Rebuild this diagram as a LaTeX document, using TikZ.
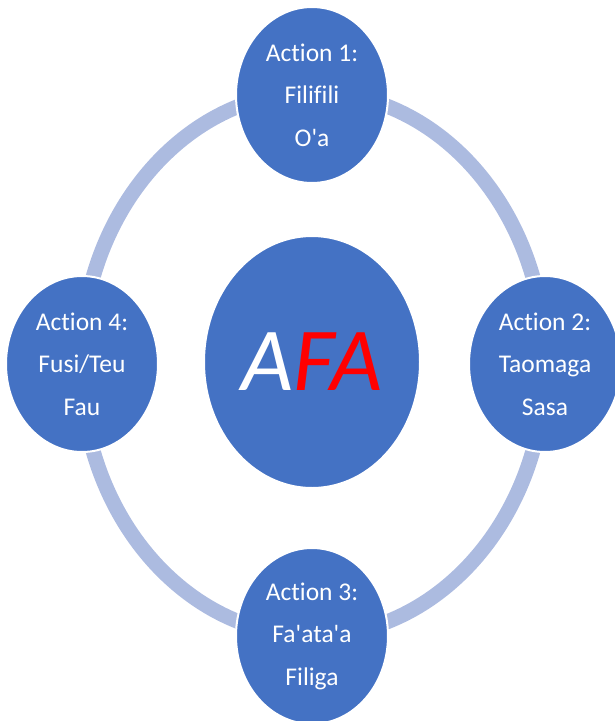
\documentclass[tikz,border=0pt]{standalone}
\usepackage{fontspec}
\newfontfamily\calib{Carlito}[Ligatures=NoCommon]
\usetikzlibrary{shapes.geometric}
\definecolor{blueA}{RGB}{68,114,196}
\definecolor{ringC}{RGB}{172,187,224}
\definecolor{redA}{RGB}{255,0,0}
\begin{document}
\begin{tikzpicture}[x=1pt,y=-1pt,
  act/.style={ellipse, fill=blueA, draw=white, line width=2pt,
    minimum width=152pt, minimum height=176pt, inner sep=0pt,
    text=white, align=center, font=\calib\fontsize{25.5}{42.5}\selectfont},
  hub/.style={ellipse, fill=blueA, draw=white, line width=2pt,
    minimum width=216pt, minimum height=252pt, inner sep=0pt,
    text=white, font=\calib\itshape\fontsize{90}{90}\selectfont},
  ringline/.style={draw=ringC, line width=15pt}]
\useasboundingbox (0,0) rectangle (615,721);
\clip (0,0) rectangle (615,721);
\coordinate (ctr) at (313,364);
\draw[ringline] (ctr) ellipse [x radius=232pt, y radius=272pt];
\node[hub] (afa) at (312,362) {A\textcolor{redA}{FA}};
\node[act] (a1) at (312,95) {Action 1:\\Filifili\\O'a};
\node[act] (a2) at (545,364) {Action 2:\\Taomaga\\Sasa};
\node[act] (a3) at (312,636) {Action 3:\\Fa'ata'a\\Filiga};
\node[act] (a4) at (82,364) {Action 4:\\Fusi/Teu\\Fau};
\end{tikzpicture}
\end{document}
